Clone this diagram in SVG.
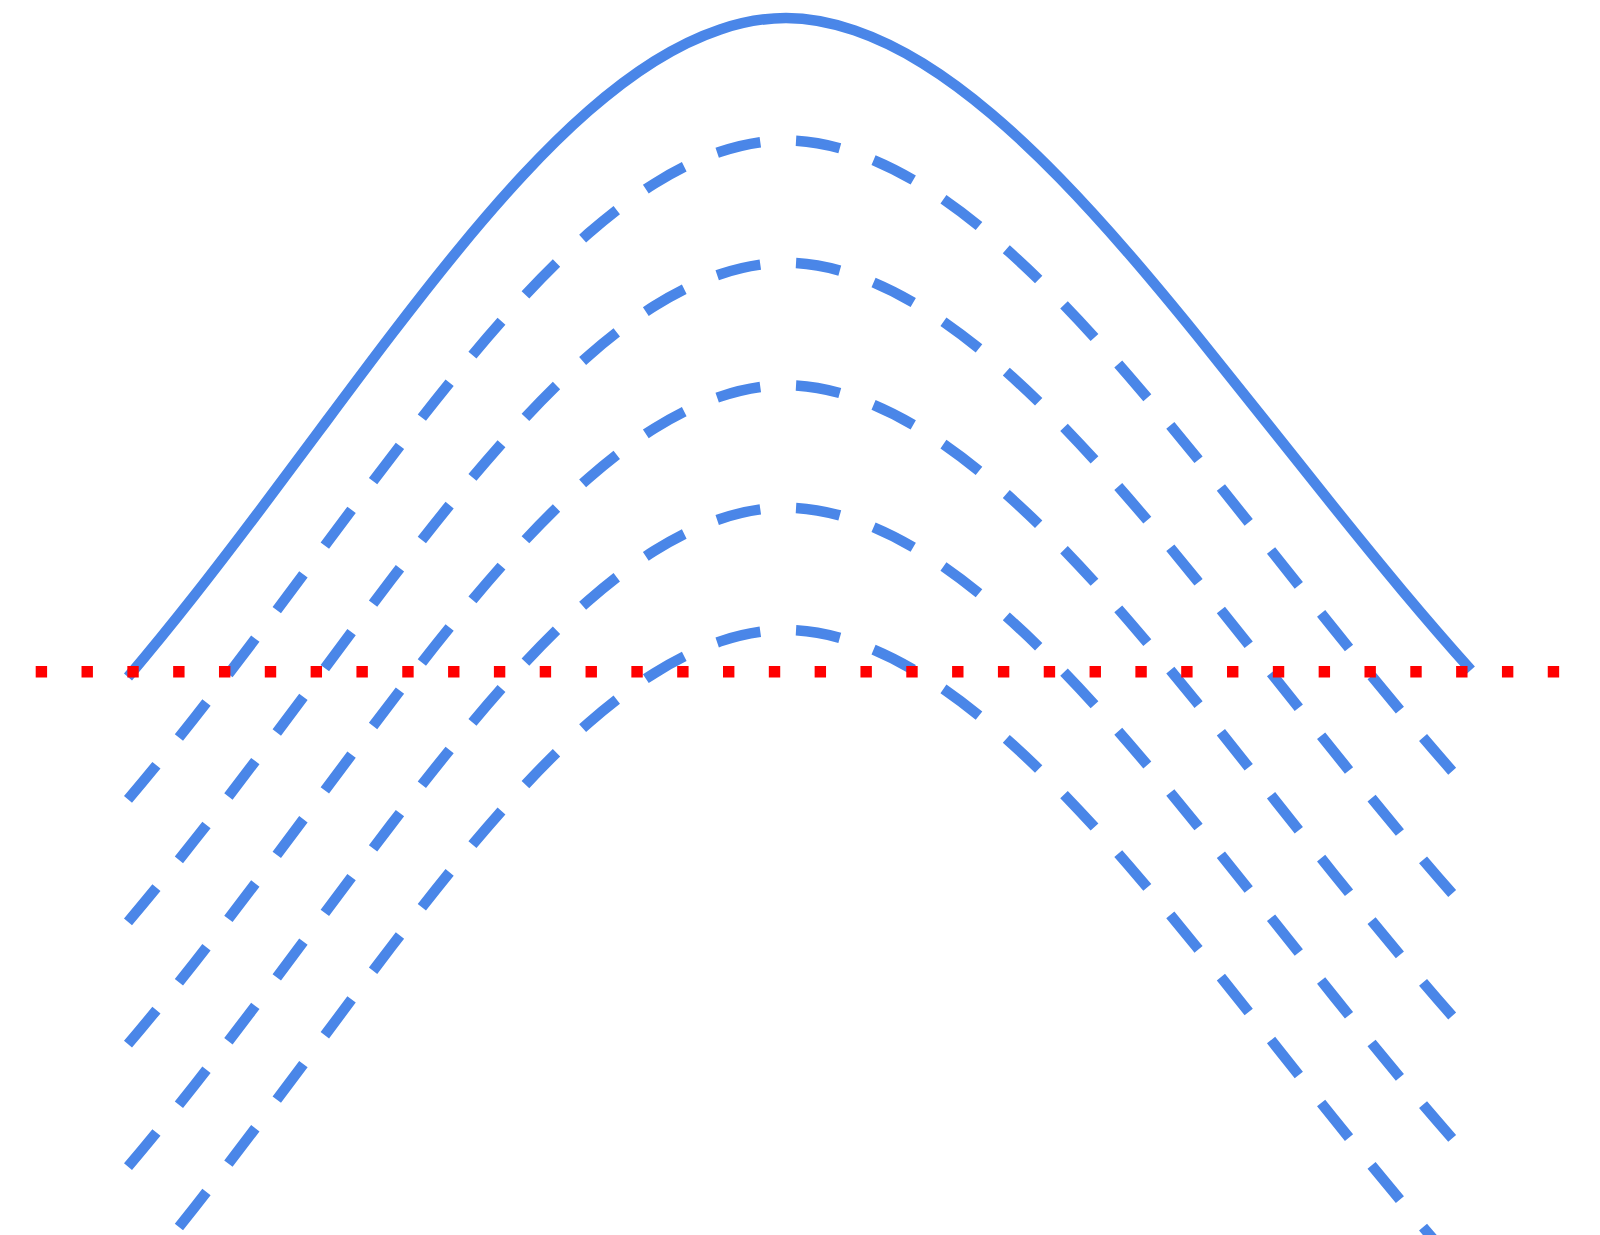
<svg xmlns="http://www.w3.org/2000/svg" xmlns:xlink="http://www.w3.org/1999/xlink" width="1600" height="1235" viewBox="0 0 1600 1235">
  <style>
    .curve { fill: none; stroke: #4a86e8; stroke-width: 10.5; stroke-linecap: butt; stroke-linejoin: round; }
    .dashed { stroke-dasharray: 44.5 35.8; }
    .baseline { fill: none; stroke: #ff0000; stroke-width: 11.4; stroke-dasharray: 11.4 34.42; stroke-linecap: butt; }
  </style>
  <defs>
    <path id="bell" d="M128,677 C149.93,651.13 171.87,624.15 193.8,596.3 C215.73,568.45 237.67,539.72 259.6,510.6 C281.53,481.48 303.47,451.97 325.4,422.5 C347.33,393.03 369.27,363.63 391.2,334.9 C413.13,306.17 435.07,278.09 457,251.3 C478.93,224.51 500.87,199.01 522.8,175.4 C544.73,151.79 566.67,130.11 588.6,110.9 C610.53,91.69 632.47,74.93 654.4,61.2 C676.33,47.47 698.27,36.74 720.2,29.4 C742.13,22.06 764.07,18 786,18 C808.83,18 831.67,22.6 854.5,30.4 C877.33,38.2 900.17,49.4 923,63.5 C945.83,77.6 968.67,94.66 991.5,114 C1014.33,133.34 1037.17,154.95 1060,178.4 C1082.83,201.85 1105.67,227.03 1128.5,253.4 C1151.33,279.77 1174.17,307.38 1197,335.5 C1219.83,363.62 1242.67,392.34 1265.5,421.1 C1288.33,449.87 1311.17,478.57 1334,507 C1356.83,535.43 1379.67,563.53 1402.5,590.8 C1425.33,618.07 1448.17,644.54 1471,670"/>
  </defs>
  <rect width="1600" height="1235" fill="#ffffff"/>
  <g id="curves">
    <use id="curve-solid" class="curve" href="#bell" xlink:href="#bell"/>
    <use id="curve-dashed-1" class="curve dashed" href="#bell" xlink:href="#bell" transform="translate(0,122.4)"/>
    <use id="curve-dashed-2" class="curve dashed" href="#bell" xlink:href="#bell" transform="translate(0,244.8)"/>
    <use id="curve-dashed-3" class="curve dashed" href="#bell" xlink:href="#bell" transform="translate(0,367.2)"/>
    <use id="curve-dashed-4" class="curve dashed" href="#bell" xlink:href="#bell" transform="translate(0,489.6)"/>
    <use id="curve-dashed-5" class="curve dashed" href="#bell" xlink:href="#bell" transform="translate(0,612)"/>
  </g>
  <g id="baseline-group">
    <line class="baseline" x1="35.7" y1="671.7" x2="1560" y2="671.7"/>
  </g>
</svg>
